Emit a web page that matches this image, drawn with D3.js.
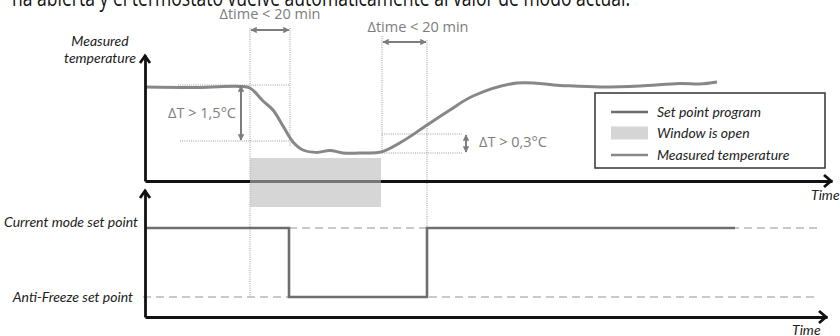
<!DOCTYPE html>
<html>
<head>
<meta charset="utf-8">
<script src="https://cdn.jsdelivr.net/npm/d3@7"></script>
<style>
  html, body { margin: 0; padding: 0; background: #fff; }
  svg { display: block; }
  .lbl { font-family: Lato, "Open Sans", sans-serif; font-style: italic; fill: #222; }
  .ann { font-family: "Open Sans", sans-serif; fill: #7d7d7d; }
</style>
</head>
<body>
<svg id="chart" width="840" height="336"></svg>
<script>
// ---------------- DATA ----------------
const titleText = "na abierta y el termostato vuelve automáticamente al valor de modo actual.";
// measured temperature: time (min) and temperature (°C)
const tempTime  = [0, 27.5, 47.5, 52.5, 59, 64, 69, 74, 79, 86, 92.5, 99, 109, 118, 129, 141, 152.5, 164, 186, 207.5, 227.5, 247.5, 267.5, 277.5, 286];
const tempValue = [20.70, 20.68, 20.73, 20.65, 20.0, 19.55, 18.75, 17.95, 17.55, 17.43, 17.53, 17.4, 17.4, 17.45, 18.0, 18.8, 19.55, 20.25, 20.9, 20.78, 20.7, 20.75, 20.88, 20.85, 20.95];
// set point program (step): time (min) and set point (°C)
const setTime  = [0, 72, 141, 295];
const setValue = [20, 7, 20, 20];
const setLevels = [20, 7];
const setLevelLabels = ["Current mode set point", "Anti-Freeze set point"];
const setLevelEnd = 336.5;
// window open period (min)
const windowOpen = [52.5, 118];
// annotations
const dtimeLabels = ["\u0394time < 20 min", "\u0394time < 20 min"];
const dtimeSpans = [[52.5, 72.5], [118.5, 141]];
const dTLabels = ["\u0394T > 1,5°C", "\u0394T > 0,3°C"];
const dTSpans = [[20.8, 18.0], [18.35, 17.4]];
const legendLabels = ["Set point program", "Window is open", "Measured temperature"];
const axisLabels = { yTop: ["Measured", "temperature"], x: "Time" };

// ---------------- LAYOUT ----------------
const X0 = 145;
const svg = d3.select("#chart");
const x = d3.scaleLinear().domain([0, 343.5]).range([X0, 832]);
const yT = d3.scaleLinear().domain([16, 22.3]).range([181, 55]);
const yS = d3.scaleLinear().domain([7, 20]).range([297, 228]);
const topAxisY = 181, lowAxisY = 317, lowTopY = 190;

const cGrid = "#9a9a9a", cAnn = "#7d7d7d";

// title (cut off at top)
svg.append("text").attr("x", 12).attr("y", 5.5)
  .attr("textLength", 618).attr("lengthAdjust", "spacingAndGlyphs")
  .style("font-family", "'Open Sans', sans-serif").style("font-size", "24px").style("fill", "#111")
  .text(titleText);

// ---- dotted guide lines ----
const dotted = (x1, y1, x2, y2) => svg.append("line")
  .attr("x1", x1).attr("y1", y1).attr("x2", x2).attr("y2", y2)
  .attr("stroke", cGrid).attr("stroke-width", 1).attr("stroke-dasharray", "1,1.2");
dotted(x(dtimeSpans[0][0]), 28, x(dtimeSpans[0][0]), yS(7));
dotted(x(dtimeSpans[0][1]), 28, x(dtimeSpans[0][1]), 147);
dotted(x(dtimeSpans[1][0]), 36, x(dtimeSpans[1][0]), yT(dTSpans[1][1]));
dotted(x(dtimeSpans[1][1]), 40, x(dtimeSpans[1][1]), yS(20));
dotted(178, yT(dTSpans[0][0]), x(dtimeSpans[0][1]), yT(dTSpans[0][0]));
dotted(180, yT(dTSpans[0][1]), x(dtimeSpans[0][1]), yT(dTSpans[0][1]));
dotted(x(dtimeSpans[1][0]), yT(dTSpans[1][0]), 462, yT(dTSpans[1][0]));
dotted(x(dtimeSpans[1][0]), yT(dTSpans[1][1]), 462, yT(dTSpans[1][1]));

// ---- dashed set point levels ----
svg.append("g").selectAll("line").data(setLevels).join("line")
  .attr("x1", (d, i) => i === 0 ? x(72) : 143).attr("x2", x(setLevelEnd))
  .attr("y1", d => yS(d)).attr("y2", d => yS(d))
  .attr("stroke", "#c9c9c9").attr("stroke-width", 2).attr("stroke-dasharray", "8,5");

// ---- set point program ----
svg.append("path")
  .datum(setTime.map((t, i) => [t, setValue[i]]))
  .attr("d", d3.line().x(d => x(d[0])).y(d => yS(d[1])).curve(d3.curveStepAfter))
  .attr("fill", "none").attr("stroke", "#6e6e6e").attr("stroke-width", 2.6);

// ---- measured temperature ----
svg.append("path")
  .datum(tempTime.map((t, i) => [t, tempValue[i]]))
  .attr("d", d3.line().x(d => x(d[0])).y(d => yT(d[1])).curve(d3.curveCatmullRom))
  .attr("fill", "none").attr("stroke", "#878787").attr("stroke-width", 3);

// ---- axes ----
const axStyle = g => { g.select(".domain").attr("stroke", "#111").attr("stroke-width", 2.8); g.selectAll(".tick").remove(); };
svg.append("g").attr("transform", `translate(0,${topAxisY})`)
  .call(d3.axisBottom(x).tickValues([]).tickSizeOuter(0)).call(axStyle);
const xLow = x.copy().range([X0, 827]);
svg.append("g").attr("transform", `translate(0,${lowAxisY})`)
  .call(d3.axisBottom(xLow).tickValues([]).tickSizeOuter(0)).call(axStyle);
svg.append("g").attr("transform", `translate(${X0},0)`)
  .call(d3.axisLeft(yT).tickValues([]).tickSizeOuter(0)).call(axStyle);
const ySAxis = d3.scaleLinear().domain([yS.invert(lowAxisY), yS.invert(lowTopY)]).range([lowAxisY, lowTopY]);
svg.append("g").attr("transform", `translate(${X0},0)`)
  .call(d3.axisLeft(ySAxis).tickValues([]).tickSizeOuter(0)).call(axStyle);
// chevron arrow heads
const chevron = (pts) => svg.append("polyline").attr("points", pts.map(p => p.join(",")).join(" "))
  .attr("fill", "none").attr("stroke", "#111").attr("stroke-width", 2.8)
  .attr("stroke-linejoin", "miter").attr("stroke-linecap", "butt");
chevron([[X0 - 5, 63], [X0, 56], [X0 + 5, 63]]);
chevron([[X0 - 5, lowTopY + 8], [X0, lowTopY + 1], [X0 + 5, lowTopY + 8]]);
chevron([[824, topAxisY - 6], [831, topAxisY], [824, topAxisY + 6]]);
chevron([[819, lowAxisY - 6], [826, lowAxisY], [819, lowAxisY + 6]]);

// ---- window open rect ----
svg.append("rect")
  .attr("x", x(windowOpen[0])).attr("width", x(windowOpen[1]) - x(windowOpen[0]))
  .attr("y", 158).attr("height", 49)
  .attr("fill", "#bbbbbb").attr("fill-opacity", 0.6);

// ---- annotation arrows ----
const defs = svg.append("defs");
defs.append("marker").attr("id", "ah").attr("viewBox", "0 0 10 10").attr("refX", 9).attr("refY", 5)
  .attr("markerWidth", 3.2).attr("markerHeight", 3.2).attr("orient", "auto-start-reverse")
  .append("path").attr("d", "M0,0 L10,5 L0,10 Z").attr("fill", cAnn);
const arrow = (x1, y1, x2, y2) => svg.append("line")
  .attr("x1", x1).attr("y1", y1).attr("x2", x2).attr("y2", y2)
  .attr("stroke", cAnn).attr("stroke-width", 2)
  .attr("marker-start", "url(#ah)").attr("marker-end", "url(#ah)");
arrow(x(dtimeSpans[0][0]) + 1, 30, x(dtimeSpans[0][1]) - 1, 30);
arrow(x(dtimeSpans[1][0]) + 1, 42, x(dtimeSpans[1][1]) - 1, 42);
arrow(241, yT(dTSpans[0][0]) + 1, 241, yT(dTSpans[0][1]) - 1);
arrow(466, yT(dTSpans[1][0]) + 1, 466, yT(dTSpans[1][1]) - 1);

svg.append("text").attr("class", "ann").attr("x", 270).attr("y", 18.5).attr("text-anchor", "middle")
  .style("font-size", "14.5px").text(dtimeLabels[0]);
svg.append("text").attr("class", "ann").attr("x", 418).attr("y", 31.5).attr("text-anchor", "middle")
  .style("font-size", "14.5px").text(dtimeLabels[1]);
svg.append("text").attr("class", "ann").attr("x", 236).attr("y", 118).attr("text-anchor", "end")
  .style("font-size", "14.5px").text(dTLabels[0]);
svg.append("text").attr("class", "ann").attr("x", 479).attr("y", 147)
  .style("font-size", "14.5px").text(dTLabels[1]);

// ---- axis labels ----
svg.append("text").attr("class", "lbl").attr("x", 100).attr("y", 46).attr("text-anchor", "middle")
  .style("font-size", "14px").text(axisLabels.yTop[0]);
svg.append("text").attr("class", "lbl").attr("x", 100).attr("y", 63).attr("text-anchor", "middle")
  .style("font-size", "14px").text(axisLabels.yTop[1]);
svg.append("g").selectAll("text").data(setLevels).join("text").attr("class", "lbl")
  .attr("x", (d, i) => i === 0 ? 138 : 133).attr("y", d => yS(d) + (d === 20 ? -1 : 5))
  .attr("text-anchor", "end").style("font-size", "14px")
  .text((d, i) => setLevelLabels[i]);
svg.append("text").attr("class", "lbl").attr("x", 811).attr("y", 200).style("font-size", "14px").text(axisLabels.x);
svg.append("text").attr("class", "lbl").attr("x", 792).attr("y", 335).style("font-size", "14px").text(axisLabels.x);

// ---- legend ----
const lg = svg.append("g").attr("transform", "translate(595,93)");
lg.append("rect").attr("width", 230).attr("height", 75).attr("fill", "#fff")
  .attr("stroke", "#333").attr("stroke-width", 1.5);
const rowsY = [19, 40, 62];
legendLabels.forEach((lab, i) => {
  if (i === 1) {
    lg.append("rect").attr("x", 16).attr("y", rowsY[i] - 6.5).attr("width", 37).attr("height", 13).attr("fill", "#d5d5d5");
  } else {
    lg.append("line").attr("x1", 16).attr("x2", 53).attr("y1", rowsY[i]).attr("y2", rowsY[i])
      .attr("stroke", i === 0 ? "#6e6e6e" : "#878787").attr("stroke-width", 2.6);
  }
  lg.append("text").attr("class", "lbl").attr("x", 62).attr("y", rowsY[i] + 4.5)
    .style("font-size", "14px").text(lab);
});
</script>
</body>
</html>
